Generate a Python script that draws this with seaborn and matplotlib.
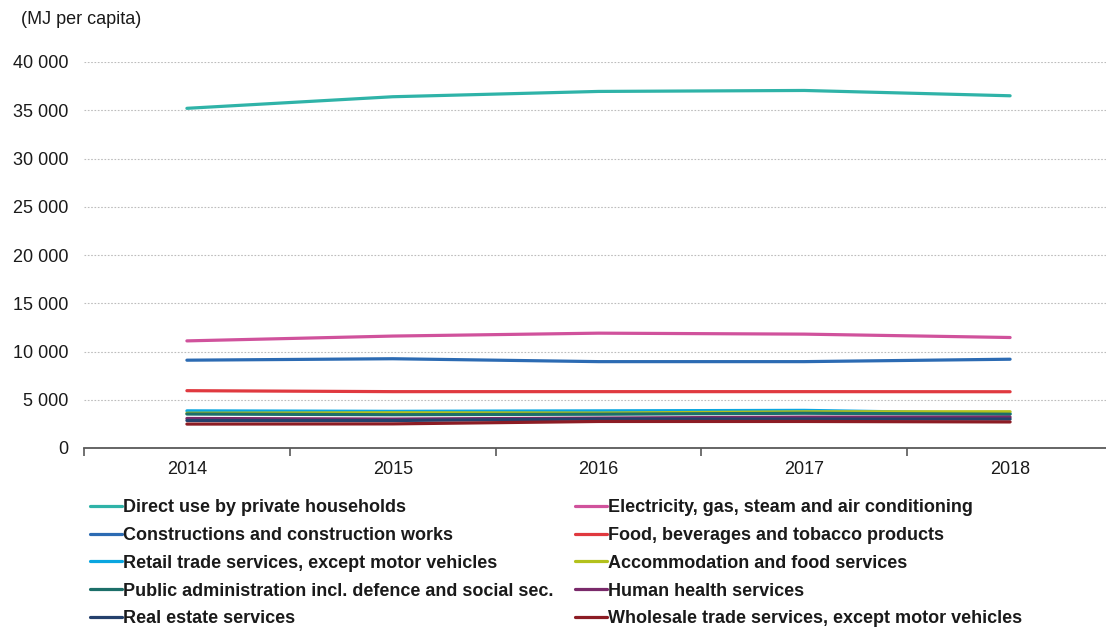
import matplotlib
matplotlib.use("Agg")
import matplotlib.pyplot as plt
from matplotlib.ticker import FixedLocator, FuncFormatter
from matplotlib.lines import Line2D
import seaborn as sns
import pandas as pd

years = [2014, 2015, 2016, 2017, 2018]

direct_use = [35200, 36400, 36950, 37050, 36500]
electricity = [11100, 11600, 11900, 11800, 11450]
constructions = [9100, 9250, 8950, 8950, 9200]
food = [5940, 5840, 5840, 5840, 5830]
retail = [3850, 3800, 3850, 3900, 3560]
accommodation = [3600, 3650, 3620, 3750, 3760]
public_admin = [3520, 3450, 3500, 3600, 3500]
health = [3060, 3000, 3100, 3200, 3200]
real_estate = [2850, 2850, 3000, 3000, 3000]
wholesale = [2480, 2500, 2750, 2750, 2700]

series = {
    "Direct use by private households": direct_use,
    "Electricity, gas, steam and air conditioning": electricity,
    "Constructions and construction works": constructions,
    "Food, beverages and tobacco products": food,
    "Retail trade services, except motor vehicles": retail,
    "Accommodation and food services": accommodation,
    "Public administration incl. defence and social sec.": public_admin,
    "Human health services": health,
    "Real estate services": real_estate,
    "Wholesale trade services, except motor vehicles": wholesale,
}

colors = {
    "Direct use by private households": "#2FB3A8",
    "Electricity, gas, steam and air conditioning": "#D0529C",
    "Constructions and construction works": "#2C6BB3",
    "Food, beverages and tobacco products": "#E0393F",
    "Retail trade services, except motor vehicles": "#0AA6E0",
    "Accommodation and food services": "#B3C11C",
    "Public administration incl. defence and social sec.": "#1C6F69",
    "Human health services": "#7A2A6A",
    "Real estate services": "#24406C",
    "Wholesale trade services, except motor vehicles": "#8C1C24",
}

rows = []
for name, vals in series.items():
    for y, v in zip(years, vals):
        rows.append({"year": y, "value": v, "product": name})
df = pd.DataFrame(rows)

sns.set_theme(style="white")
plt.rcParams["font.family"] = ["Liberation Sans", "DejaVu Sans"]
plt.rcParams["font.size"] = 13

fig = plt.figure(figsize=(11.06, 6.3), dpi=100)
W, H = 1106, 630
ax = fig.add_axes([84 / W, (H - 448) / H, (1113 - 84) / W, 386 / H])

sns.lineplot(data=df, x="year", y="value", hue="product", palette=colors,
             hue_order=list(series.keys()), linewidth=2.3, ax=ax, legend=False)

ax.set_xlim(2013.5, 2018.5)
ax.set_ylim(0, 40000)
ax.set_xlabel("")
ax.set_ylabel("")

ax.yaxis.set_major_locator(FixedLocator(range(0, 40001, 5000)))
ax.yaxis.set_major_formatter(FuncFormatter(lambda v, p: f"{int(v):,}".replace(",", " ")))
ax.grid(axis="y", linestyle=(0, (1.5, 1.5)), color="#BDBDBD", linewidth=0.8)
ax.set_axisbelow(True)

ax.xaxis.set_major_locator(FixedLocator(years))
ax.xaxis.set_major_formatter(FuncFormatter(lambda v, p: f"{int(v)}"))
ax.xaxis.set_minor_locator(FixedLocator([y + 0.5 for y in [2013] + years]))
ax.tick_params(axis="x", which="major", length=0, pad=9, labelsize=13, labelcolor="#1A1A1A")
ax.tick_params(axis="x", which="minor", length=6, width=1.2, color="#595959", direction="out", bottom=True)
ax.tick_params(axis="y", length=0, pad=11.5, labelsize=13, labelcolor="#1A1A1A")

for side in ["top", "right", "left"]:
    ax.spines[side].set_visible(False)
ax.spines["bottom"].set_color("#595959")
ax.spines["bottom"].set_linewidth(1.3)

fig.text(21 / W, 1 - 19 / H, "(MJ per capita)", fontsize=13, color="#1A1A1A",
         ha="left", va="center")

names = list(series.keys())
col1 = names[0::2]
col2 = names[1::2]
for col, x0 in [(col1, 90), (col2, 575)]:
    handles = [Line2D([0], [0], color=colors[n], linewidth=2.3) for n in col]
    leg = fig.legend(handles, col, loc="upper left", bbox_to_anchor=(x0 / W, 1 - 499 / H),
                     frameon=False, handlelength=1.75, handletextpad=0.1,
                     labelspacing=0.6, borderpad=0, borderaxespad=0,
                     prop={"size": 13, "weight": "bold"})
    for t in leg.get_texts():
        t.set_color("#1A1A1A")

fig.savefig("out.png", dpi=100)
